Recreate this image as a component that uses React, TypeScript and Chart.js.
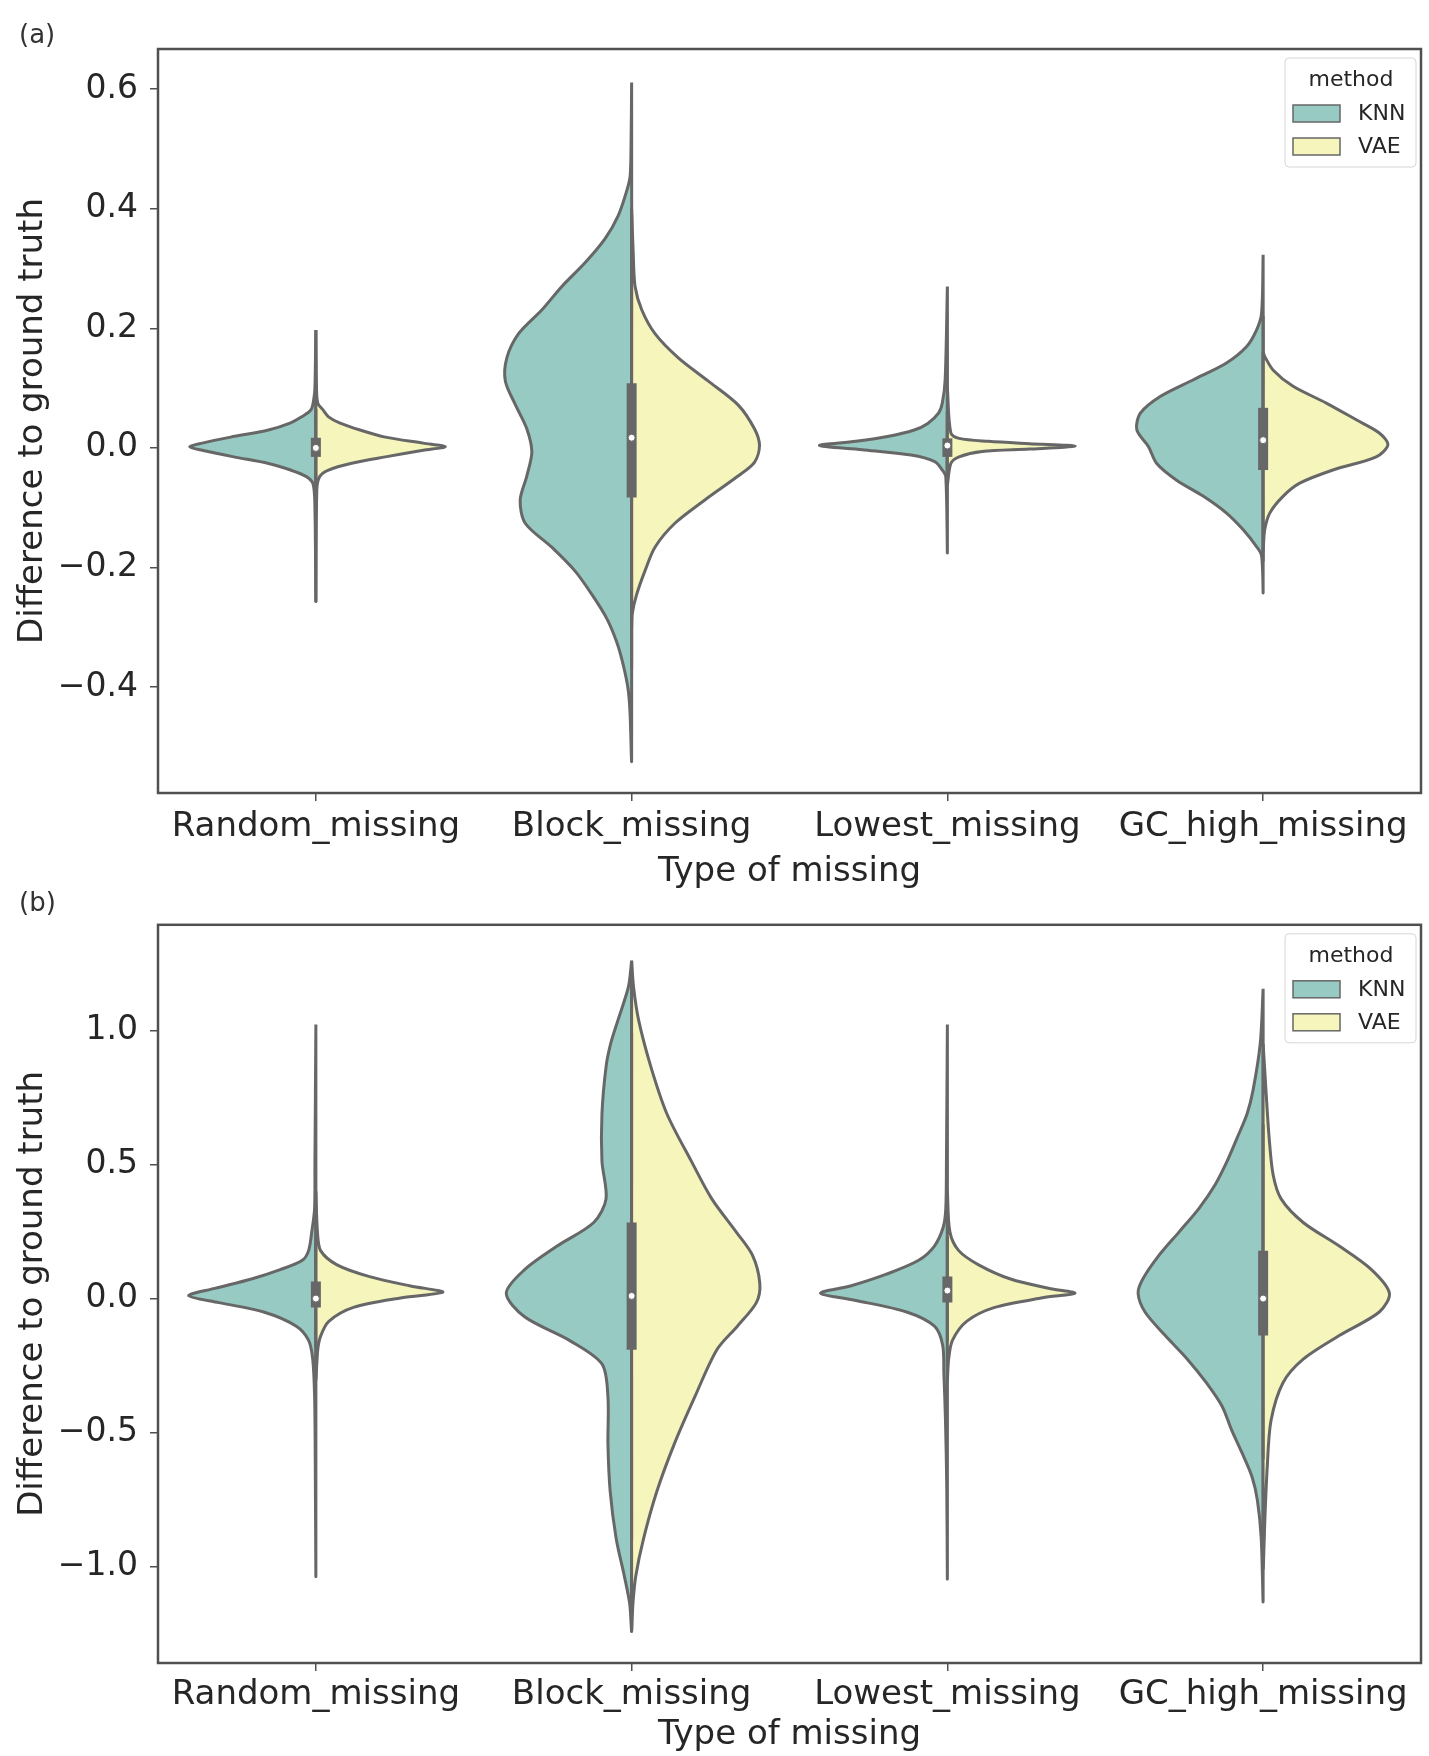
import React, { useEffect, useRef } from 'react';
import { Chart, registerables } from 'chart.js';

Chart.register(...registerables);

const FONT = '"DejaVu Sans", sans-serif';

const categories = ['Random_missing', 'Block_missing', 'Lowest_missing', 'GC_high_missing'];
const methods = ['KNN', 'VAE'];
const methodColors = ['#96cac2', '#f5f5bc'];
const edgeColor = '#676767';

// ---------- Panel (a): [value, half-width] pairs, top to bottom ----------
const aRandomKNN = [[0.197, 0], [0.10, 0.003], [0.084, 0.006], [0.064, 0.015], [0.052, 0.045], [0.042, 0.08], [0.030, 0.15], [0.018, 0.27], [0.008, 0.36], [0.002, 0.40], [-0.004, 0.36], [-0.015, 0.26], [-0.026, 0.15], [-0.037, 0.08], [-0.048, 0.03], [-0.060, 0.009], [-0.10, 0.003], [-0.254, 0]];
const aRandomVAE = [[0.197, 0], [0.10, 0.002], [0.075, 0.006], [0.064, 0.022], [0.052, 0.04], [0.042, 0.075], [0.030, 0.14], [0.018, 0.22], [0.008, 0.34], [0.002, 0.41], [-0.004, 0.34], [-0.015, 0.22], [-0.026, 0.11], [-0.037, 0.04], [-0.048, 0.012], [-0.070, 0.003], [-0.254, 0]];
const aBlockKNN = [[0.611, 0], [0.50, 0.002], [0.453, 0.005], [0.429, 0.016], [0.389, 0.042], [0.350, 0.084], [0.310, 0.147], [0.270, 0.221], [0.231, 0.284], [0.191, 0.358], [0.151, 0.395], [0.112, 0.40], [0.072, 0.368], [0.032, 0.332], [-0.007, 0.316], [-0.047, 0.332], [-0.087, 0.353], [-0.126, 0.337], [-0.166, 0.253], [-0.206, 0.179], [-0.245, 0.126], [-0.285, 0.079], [-0.325, 0.047], [-0.364, 0.026], [-0.404, 0.011], [-0.443, 0.005], [-0.521, 0]];
const aBlockVAE = [[0.40, 0], [0.326, 0.005], [0.270, 0.011], [0.231, 0.032], [0.191, 0.074], [0.151, 0.147], [0.112, 0.242], [0.072, 0.337], [0.032, 0.389], [0.004, 0.405], [-0.024, 0.389], [-0.047, 0.337], [-0.087, 0.232], [-0.126, 0.137], [-0.166, 0.074], [-0.206, 0.042], [-0.245, 0.016], [-0.277, 0.002], [-0.30, 0]];
const aLowestKNN = [[0.270, 0], [0.114, 0.007], [0.075, 0.016], [0.058, 0.028], [0.041, 0.062], [0.030, 0.105], [0.019, 0.19], [0.011, 0.29], [0.004, 0.405], [-0.003, 0.27], [-0.012, 0.115], [-0.023, 0.04], [-0.037, 0.016], [-0.048, 0.005], [-0.173, 0]];
const aLowestVAE = [[0.10, 0], [0.025, 0.011], [0.016, 0.037], [0.011, 0.13], [0.007, 0.26], [0.003, 0.405], [-0.002, 0.26], [-0.006, 0.11], [-0.015, 0.037], [-0.026, 0.011], [-0.06, 0]];
const aGCKNN = [[0.323, 0], [0.225, 0.005], [0.197, 0.021], [0.169, 0.053], [0.142, 0.116], [0.114, 0.221], [0.086, 0.326], [0.058, 0.389], [0.030, 0.40], [0.002, 0.363], [-0.026, 0.337], [-0.054, 0.274], [-0.081, 0.189], [-0.109, 0.116], [-0.137, 0.063], [-0.165, 0.021], [-0.18, 0.005], [-0.24, 0]];
const aGCVAE = [[0.16, 0], [0.153, 0.005], [0.130, 0.032], [0.103, 0.095], [0.075, 0.20], [0.047, 0.295], [0.025, 0.368], [0.005, 0.395], [-0.015, 0.358], [-0.037, 0.221], [-0.059, 0.116], [-0.081, 0.063], [-0.109, 0.021], [-0.137, 0.005], [-0.17, 0]];
const aQ1 = [-0.015, -0.083, -0.015, -0.037];
const aMedian = [0.0, 0.017, 0.004, 0.013];
const aQ3 = [0.017, 0.108, 0.016, 0.067];
const aWhiskerLo = [-0.06, -0.37, -0.06, -0.19];
const aWhiskerHi = [0.065, 0.39, 0.06, 0.22];
const aYTicks = [-0.4, -0.2, 0.0, 0.2, 0.4, 0.6];
const aYMin = -0.577;
const aYMax = 0.667;

// ---------- Panel (b) ----------
const bRandomKNN = [[1.023, 0], [0.50, 0.003], [0.337, 0.004], [0.249, 0.013], [0.179, 0.023], [0.143, 0.043], [0.108, 0.113], [0.073, 0.204], [0.038, 0.32], [0.011, 0.403], [-0.015, 0.307], [-0.05, 0.165], [-0.103, 0.062], [-0.156, 0.023], [-0.226, 0.01], [-0.366, 0.004], [-0.60, 0.002], [-1.026, 0]];
const bRandomVAE = [[0.40, 0], [0.249, 0.005], [0.179, 0.015], [0.126, 0.067], [0.082, 0.17], [0.047, 0.30], [0.024, 0.402], [0.003, 0.273], [-0.033, 0.119], [-0.085, 0.041], [-0.14, 0.015], [-0.19, 0.006], [-0.30, 0]];
const bBlockKNN = [[1.261, 0], [1.164, 0.010], [1.04, 0.043], [0.953, 0.066], [0.865, 0.081], [0.689, 0.094], [0.513, 0.094], [0.372, 0.081], [0.284, 0.12], [0.196, 0.236], [0.108, 0.339], [0.02, 0.397], [-0.068, 0.339], [-0.156, 0.197], [-0.244, 0.094], [-0.367, 0.075], [-0.543, 0.075], [-0.719, 0.068], [-0.895, 0.049], [-1.036, 0.023], [-1.14, 0.006], [-1.237, 0]];
const bBlockVAE = [[1.261, 0], [1.164, 0.006], [1.04, 0.022], [0.865, 0.061], [0.689, 0.112], [0.513, 0.189], [0.372, 0.254], [0.249, 0.331], [0.161, 0.383], [0.056, 0.406], [-0.015, 0.395], [-0.103, 0.335], [-0.191, 0.27], [-0.367, 0.2], [-0.543, 0.135], [-0.719, 0.08], [-0.895, 0.038], [-1.036, 0.013], [-1.14, 0.004], [-1.237, 0]];
const bLowestKNN = [[1.023, 0], [0.50, 0.003], [0.337, 0.005], [0.267, 0.013], [0.196, 0.041], [0.143, 0.091], [0.091, 0.193], [0.047, 0.307], [0.02, 0.402], [-0.006, 0.294], [-0.05, 0.129], [-0.103, 0.041], [-0.173, 0.015], [-0.28, 0.011], [-0.455, 0.006], [-0.70, 0.002], [-1.036, 0]];
const bLowestVAE = [[0.40, 0], [0.249, 0.008], [0.179, 0.036], [0.126, 0.099], [0.073, 0.20], [0.037, 0.327], [0.02, 0.404], [0.003, 0.302], [-0.033, 0.15], [-0.085, 0.061], [-0.156, 0.016], [-0.226, 0.004], [-0.30, 0]];
const bGCKNN = [[1.156, 0], [0.953, 0.009], [0.777, 0.032], [0.689, 0.051], [0.601, 0.082], [0.513, 0.114], [0.425, 0.152], [0.337, 0.203], [0.249, 0.266], [0.161, 0.33], [0.073, 0.381], [0.02, 0.396], [-0.05, 0.374], [-0.138, 0.31], [-0.226, 0.24], [-0.314, 0.18], [-0.402, 0.13], [-0.49, 0.1], [-0.578, 0.066], [-0.666, 0.035], [-0.754, 0.018], [-0.895, 0.006], [-1.123, 0]];
const bGCVAE = [[0.95, 0], [0.777, 0.009], [0.601, 0.019], [0.46, 0.032], [0.372, 0.057], [0.284, 0.127], [0.196, 0.241], [0.108, 0.343], [0.02, 0.40], [-0.05, 0.368], [-0.138, 0.241], [-0.226, 0.127], [-0.314, 0.063], [-0.455, 0.025], [-0.63, 0.013], [-0.81, 0.006], [-1.0, 0]];
const bQ1 = [-0.033, -0.191, -0.015, -0.138];
const bMedian = [0.0, 0.01, 0.03, 0.0];
const bQ3 = [0.064, 0.284, 0.082, 0.179];
const bWhiskerLo = [-0.18, -0.9, -0.16, -0.6];
const bWhiskerHi = [0.21, 0.99, 0.23, 0.65];
const bYTicks = [-1.0, -0.5, 0.0, 0.5, 1.0];
const bYMin = -1.36;
const bYMax = 1.395;

type Pairs = number[][];

function buildDatasets(knn: Pairs[], vae: Pairs[], q1: number[], med: number[], q3: number[], wlo: number[], whi: number[]) {
  const ds: any[] = [];
  categories.forEach((_, i) => {
    [knn[i], vae[i]].forEach((pairs, m) => {
      const sign = m === 0 ? -1 : 1;
      const pts = pairs.map(([v, w]) => ({ x: i + sign * w, y: v }));
      pts.push({ x: i, y: pairs[0][0] });
      ds.push({
        label: methods[m],
        data: pts,
        borderColor: edgeColor,
        backgroundColor: methodColors[m],
        borderWidth: 3,
        borderJoinStyle: 'round',
        fill: 'shape',
        tension: 0.3,
        pointRadius: 0,
        order: 10 - m,
      });
    });
    ds.push({
      data: [{ x: i, y: wlo[i] }, { x: i, y: whi[i] }],
      borderColor: edgeColor, borderWidth: 3, pointRadius: 0, fill: false, order: 5,
    });
    ds.push({
      data: [{ x: i, y: q1[i] }, { x: i, y: q3[i] }],
      borderColor: edgeColor, borderWidth: 10, borderCapStyle: 'butt', pointRadius: 0, fill: false, order: 4,
    });
    ds.push({
      data: [{ x: i, y: med[i] }],
      showLine: false, pointRadius: 3.5, pointBackgroundColor: '#ffffff', pointBorderColor: edgeColor,
      pointBorderWidth: 1, fill: false, order: 1,
    });
  });
  return ds;
}

const fmt = (v: number) => (v < 0 ? '\u2212' : '') + Math.abs(v).toFixed(1);

const framePlugin = {
  id: 'frameAndLegend',
  afterDatasetsDraw(chart: any) {
    const { ctx, chartArea } = chart;
    const { left, top, right, bottom } = chartArea;
    ctx.save();
    ctx.strokeStyle = '#505050';
    ctx.lineWidth = 2.5;
    ctx.strokeRect(left, top, right - left, bottom - top);
    ctx.restore();
  },
  afterDraw(chart: any) {
    const { ctx, chartArea } = chart;
    const { top, right } = chartArea;
    ctx.save();
    const lx = right - 136, ly = top + 9, lw = 131, lh = 109;
    ctx.fillStyle = 'rgba(255,255,255,0.85)';
    ctx.strokeStyle = '#d6d6d6';
    ctx.lineWidth = 1;
    ctx.beginPath();
    (ctx as any).roundRect ? (ctx as any).roundRect(lx, ly, lw, lh, 4) : ctx.rect(lx, ly, lw, lh);
    ctx.fill();
    ctx.stroke();
    ctx.fillStyle = '#262626';
    ctx.font = `22px ${FONT}`;
    ctx.textAlign = 'center';
    ctx.textBaseline = 'middle';
    ctx.fillText('method', right - 70, top + 31);
    ctx.textAlign = 'left';
    methods.forEach((m, k) => {
      const py = top + 56 + k * 33;
      ctx.fillStyle = methodColors[k];
      ctx.fillRect(right - 128, py, 47, 17);
      ctx.strokeStyle = edgeColor;
      ctx.lineWidth = 1.5;
      ctx.strokeRect(right - 128, py, 47, 17);
      ctx.fillStyle = '#262626';
      ctx.fillText(m, right - 63, py + 9);
    });
    ctx.restore();
  },
};

function makeConfig(datasets: any[], yMin: number, yMax: number, yTicks: number[], padTop: number, xAxisH: number, xTickPad: number, xTitlePad: number) {
  return {
    type: 'line',
    data: { datasets },
    plugins: [framePlugin],
    options: {
      animation: false,
      responsive: false,
      devicePixelRatio: 1,
      events: [],
      layout: { padding: { top: padTop, right: 8, left: 0, bottom: 0 } },
      plugins: { legend: { display: false }, tooltip: { enabled: false } },
      scales: {
        x: {
          type: 'linear',
          min: -0.5,
          max: 3.5,
          afterBuildTicks: (ax: any) => { ax.ticks = categories.map((_, i) => ({ value: i })); },
          afterFit: (s: any) => { s.height = xAxisH; },
          ticks: {
            callback: (v: any) => categories[Math.round(v)],
            font: { family: FONT, size: 34 },
            color: '#262626',
            padding: xTickPad,
            maxRotation: 0,
            autoSkip: false,
          },
          grid: { drawOnChartArea: false, drawTicks: true, tickLength: 8, color: '#505050', lineWidth: 1.5 },
          border: { display: false },
          title: { display: true, text: 'Type of missing', font: { family: FONT, size: 34 }, color: '#262626', padding: { top: xTitlePad, bottom: 0 } },
        },
        y: {
          type: 'linear',
          min: yMin,
          max: yMax,
          afterBuildTicks: (ax: any) => { ax.ticks = yTicks.map((v) => ({ value: v })); },
          afterFit: (s: any) => { s.width = 158; },
          ticks: {
            callback: (v: any) => fmt(v),
            font: { family: FONT, size: 33 },
            color: '#262626',
            padding: 12,
          },
          grid: { drawOnChartArea: false, drawTicks: true, tickLength: 8, color: '#505050', lineWidth: 1.5 },
          border: { display: false },
          title: { display: true, text: 'Difference to ground truth', font: { family: FONT, size: 34 }, color: '#262626', padding: { top: 13, bottom: 0 } },
        },
      },
    },
  } as any;
}

export default function App() {
  const refA = useRef<HTMLCanvasElement>(null);
  const refB = useRef<HTMLCanvasElement>(null);

  useEffect(() => {
    const dsA = buildDatasets(
      [aRandomKNN, aBlockKNN, aLowestKNN, aGCKNN],
      [aRandomVAE, aBlockVAE, aLowestVAE, aGCVAE],
      aQ1, aMedian, aQ3, aWhiskerLo, aWhiskerHi,
    );
    const dsB = buildDatasets(
      [bRandomKNN, bBlockKNN, bLowestKNN, bGCKNN],
      [bRandomVAE, bBlockVAE, bLowestVAE, bGCVAE],
      bQ1, bMedian, bQ3, bWhiskerLo, bWhiskerHi,
    );
    const chartA = new Chart(refA.current as HTMLCanvasElement, makeConfig(dsA, aYMin, aYMax, aYTicks, 49, 100, 6, 10));
    const chartB = new Chart(refB.current as HTMLCanvasElement, makeConfig(dsB, bYMin, bYMax, bYTicks, 25, 93, 4, 2));
    return () => {
      chartA.destroy();
      chartB.destroy();
    };
  }, []);

  const labelStyle: React.CSSProperties = {
    position: 'absolute', left: 19, fontFamily: FONT, fontSize: 26, color: '#333', lineHeight: '30px',
  };

  return (
    <div style={{ position: 'fixed', left: 0, top: 0, width: 1429, height: 1756, background: '#fff', overflow: 'hidden' }}>
      <canvas ref={refA} width={1429} height={893} style={{ position: 'absolute', left: 0, top: 0, width: 1429, height: 893 }} />
      <canvas ref={refB} width={1429} height={863} style={{ position: 'absolute', left: 0, top: 893, width: 1429, height: 863 }} />
      <div style={{ ...labelStyle, top: 19 }}>(a)</div>
      <div style={{ ...labelStyle, top: 887 }}>(b)</div>
    </div>
  );
}
